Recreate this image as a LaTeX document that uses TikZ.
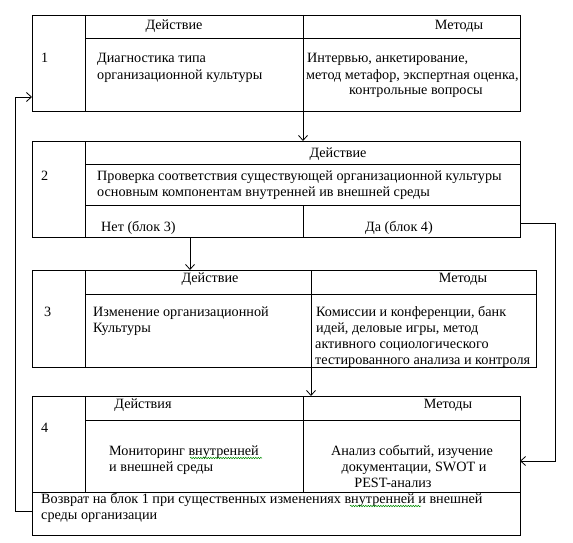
\documentclass[tikz,border=0pt]{standalone}
\usepackage{fontspec}
\setmainfont{Liberation Serif}
\usetikzlibrary{arrows.meta,decorations.pathmorphing}
\begin{document}
\begin{tikzpicture}[x=1pt,y=-1pt,
  blk/.style={draw,line width=0.8pt,inner sep=0pt,outer sep=0pt},
  sep/.style={line width=0.8pt},
  arr/.style={line width=0.8pt,-{Straight Barb[length=5pt,width=9pt,line width=0.8pt]}},
  txt/.style={inner sep=0pt,font=\fontsize{14.2}{16}\selectfont},
  lt/.style={txt,anchor=base west},
  ct/.style={txt,anchor=base},
  squig/.style={draw=green!55!black,line width=0.5pt,decorate,decoration={snake,amplitude=0.7pt,segment length=2.5pt}}]
\useasboundingbox (0,0) rectangle (573,543);

% ---------- Block 1
\node[blk,minimum width=488pt,minimum height=96pt] (b1) at (276,63) {};
\draw[sep] (85,15) -- (85,111);
\draw[sep] (303,15) -- (303,111);
\draw[sep] (85,38) -- (520,38);
\node[ct] (h1a) at (174,30) {Действие};
\node[ct] (h1b) at (459,30) {Методы};
\node[lt] (n1) at (41,63) {1};
\node[lt] (a1a) at (97,63) {Диагностика типа};
\node[lt] (a1b) at (97,79) {организационной культуры};
\node[lt] (m1a) at (307,63) {Интервью, анкетирование,};
\node[lt] (m1b) at (306,79) {метод метафор, экспертная оценка,};
\node[ct] (m1c) at (416,95) {контрольные вопросы};

% ---------- Block 2
\node[blk,minimum width=488pt,minimum height=96pt] (b2) at (276,189) {};
\draw[sep] (85,141) -- (85,237);
\draw[sep] (85,164) -- (520,164);
\draw[sep] (85,205) -- (520,205);
\draw[sep] (303,205) -- (303,237);
\node[ct] (h2) at (338,157) {Действие};
\node[lt] (n2) at (41,180) {2};
\node[lt] (a2a) at (97,180) {Проверка соответствия существующей организационной культуры};
\node[lt] (a2b) at (97,196) {основным компонентам внутренней ив внешней среды};
\node[lt] (no) at (101,231) {Нет (блок 3)};
\node[ct] (yes) at (399,231) {Да (блок 4)};

% ---------- Block 3
\node[blk,minimum width=504pt,minimum height=97pt] (b3) at (284,318.5) {};
\draw[sep] (85,270) -- (85,367);
\draw[sep] (311,270) -- (311,367);
\draw[sep] (85,294) -- (536,294);
\node[ct] (h3a) at (210,282) {Действие};
\node[ct] (h3b) at (463,282) {Методы};
\node[lt] (n3) at (44,316) {3};
\node[lt] (a3a) at (93,316) {Изменение организационной};
\node[lt] (a3b) at (93,332) {Культуры};
\node[lt] (m3a) at (316,316) {Комиссии и конференции, банк};
\node[lt] (m3b) at (316,332) {идей, деловые игры, метод};
\node[lt] (m3c) at (315,348) {активного социологического};
\node[lt] (m3d) at (315,364) {тестированного анализа и контроля};

% ---------- Block 4
\node[blk,minimum width=488pt,minimum height=139pt] (b4) at (276,465.5) {};
\draw[sep] (85,396) -- (85,492);
\draw[sep] (303,396) -- (303,492);
\draw[sep] (85,420) -- (520,420);
\draw[sep] (32,492) -- (520,492);
\node[ct] (h4a) at (143,408) {Действия};
\node[ct] (h4b) at (448,408) {Методы};
\node[lt] (n4) at (41,432) {4};
\node[lt] (a4a) at (109,455) {Мониторинг внутренней};
\node[lt] (a4b) at (109,471) {и внешней среды};
\node[ct] (m4a) at (412,455) {Анализ событий, изучение};
\node[ct] (m4b) at (414,471) {документации, SWOT и};
\node[ct] (m4c) at (393,487) {PEST-анализ};
\node[lt] (r4a) at (41,503) {Возврат на блок 1 при существенных изменениях внутренней и внешней};
\node[lt] (r4b) at (41,519) {среды организации};
\draw[squig] (190,458) -- (262,458);
\draw[squig] (350,506) -- (421,506);

% ---------- Connectors
\draw[arr] (b1.south -| 303,0) -- (b2.north -| 303,0);
\draw[arr] (b2.south -| 190,0) -- (b3.north -| 190,0);
\draw[arr] (b3.south -| 311,0) -- (b4.north -| 311,0);
\draw[arr] (b2.east |- 0,223) -- (555,223) -- (555,461) -- (b4.east |- 0,461);
\draw[arr] (b4.west |- 0,511) -- (15,511) -- (15,97) -- (b1.west |- 0,97);
\end{tikzpicture}
\end{document}
